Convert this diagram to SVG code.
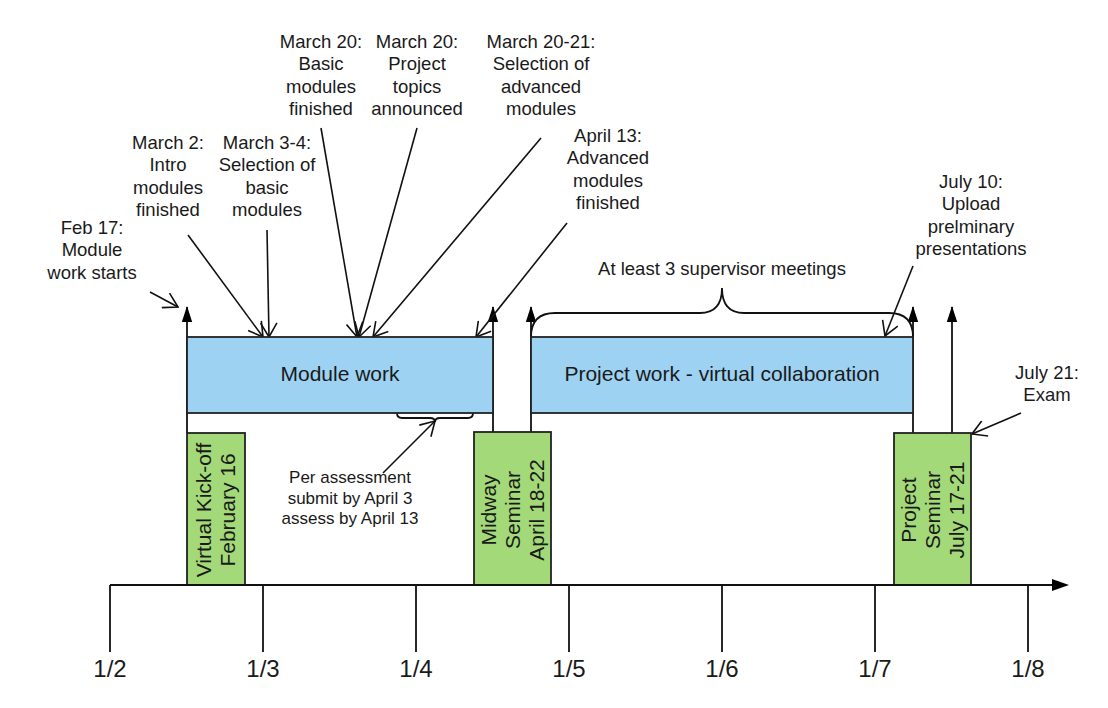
<svg xmlns="http://www.w3.org/2000/svg" width="1108" height="708" viewBox="0 0 1108 708">
<style>
text{font-family:"Liberation Sans",Arial,sans-serif;fill:#1a1a1a}
.ann{font-size:18.5px;text-anchor:middle}
.small{font-size:17px;text-anchor:middle}
.box{font-size:21px;text-anchor:middle}
.axl{font-size:24px;text-anchor:middle}
.ln{stroke:#111;stroke-width:1.8;fill:none}
.open{stroke:#111;stroke-width:1.6;fill:none;marker-end:url(#open)}
.up{stroke:#111;stroke-width:1.8;fill:none;marker-end:url(#solid)}
.blue{fill:#9dd2f2;stroke:#222;stroke-width:1.8}
.green{fill:#a3d978;stroke:#222;stroke-width:1.8}
</style>
<defs>
<marker id="open" viewBox="0 0 16 18" refX="15" refY="9" markerWidth="16" markerHeight="18" markerUnits="userSpaceOnUse" orient="auto">
<path d="M1,0.8 L15,9 L1,17.2" fill="none" stroke="#111" stroke-width="1.6"/>
</marker>
<marker id="solid" viewBox="0 0 16 12" refX="15" refY="6" markerWidth="16" markerHeight="12" markerUnits="userSpaceOnUse" orient="auto">
<path d="M0,0.8 L16,6 L0,11.2 Z" fill="#000"/>
</marker>
</defs>

<g id="connectors">
<line class="up" x1="187" y1="433" x2="187" y2="307"/>
<line class="up" x1="493" y1="432" x2="493" y2="307"/>
<line class="up" x1="531" y1="432" x2="531" y2="307"/>
<line class="up" x1="913" y1="433" x2="913" y2="307"/>
<line class="up" x1="952" y1="433" x2="952" y2="307"/>
<line class="open" x1="150" y1="292" x2="178" y2="307"/>
<line class="open" x1="188" y1="235" x2="263" y2="337"/>
<line class="open" x1="267" y1="230" x2="269" y2="337"/>
<line class="open" x1="321" y1="128" x2="357" y2="337"/>
<line class="open" x1="417" y1="128" x2="359" y2="337"/>
<line class="open" x1="541" y1="138" x2="373" y2="337"/>
<line class="open" x1="567" y1="223" x2="476" y2="337"/>
<line class="open" x1="913" y1="266" x2="885" y2="336"/>
<line class="open" x1="1021" y1="413" x2="972" y2="434"/>
<line class="open" x1="383" y1="473" x2="435" y2="421"/>
<path class="ln" d="M531,337 Q531,313 555,313 L700,313 Q722,313 722,288 Q722,313 744,313 L889,313 Q913,313 913,337"/>
<path class="ln" d="M397,413 Q397,418 402,418 L430,418 Q435,418 435,422 Q435,418 440,418 L468,418 Q473,418 473,413"/>
</g>

<g id="module-work">
<rect class="blue" x="187" y="337" width="306" height="76"/>
<text class="box" x="340" y="380.5">Module work</text>
</g>
<g id="project-work">
<rect class="blue" x="531" y="337" width="382" height="76"/>
<text class="box" x="722" y="380.5">Project work - virtual collaboration</text>
</g>

<g id="kickoff">
<rect class="green" x="187" y="433" width="58" height="152"/>
<text class="box" transform="translate(216,510) rotate(-90)"><tspan x="0" y="-5">Virtual Kick-off</tspan><tspan x="0" y="19">February 16</tspan></text>
</g>
<g id="midway">
<rect class="green" x="474" y="432" width="77" height="153"/>
<text class="box" transform="translate(512.5,510) rotate(-90)"><tspan x="0" y="-16.5">Midway</tspan><tspan x="0" y="7.5">Seminar</tspan><tspan x="0" y="31.5">April 18-22</tspan></text>
</g>
<g id="project-seminar">
<rect class="green" x="894" y="433" width="77" height="152"/>
<text class="box" transform="translate(932.5,510) rotate(-90)"><tspan x="0" y="-16.5">Project</tspan><tspan x="0" y="7.5">Seminar</tspan><tspan x="0" y="31.5">July 17-21</tspan></text>
</g>

<g id="axis">
<line class="ln" x1="110" y1="585" x2="1054" y2="585"/>
<path d="M1052,579 L1069,585 L1052,591 Z" fill="#000"/>
<line class="ln" x1="110" y1="585" x2="110" y2="652"/>
<line class="ln" x1="263" y1="585" x2="263" y2="652"/>
<line class="ln" x1="416" y1="585" x2="416" y2="652"/>
<line class="ln" x1="569" y1="585" x2="569" y2="652"/>
<line class="ln" x1="722" y1="585" x2="722" y2="652"/>
<line class="ln" x1="875" y1="585" x2="875" y2="652"/>
<line class="ln" x1="1028" y1="585" x2="1028" y2="652"/>
<text class="axl" x="110" y="677">1/2</text>
<text class="axl" x="263" y="677">1/3</text>
<text class="axl" x="416" y="677">1/4</text>
<text class="axl" x="569" y="677">1/5</text>
<text class="axl" x="722" y="677">1/6</text>
<text class="axl" x="875" y="677">1/7</text>
<text class="axl" x="1028" y="677">1/8</text>
</g>

<g id="labels">
<text class="ann" x="92" y="233.5"><tspan x="92">Feb 17:</tspan><tspan x="92" dy="22.5">Module</tspan><tspan x="92" dy="22.5">work starts</tspan></text>
<text class="ann" x="168" y="148.5"><tspan x="168">March 2:</tspan><tspan x="168" dy="22.5">Intro</tspan><tspan x="168" dy="22.5">modules</tspan><tspan x="168" dy="22.5">finished</tspan></text>
<text class="ann" x="267" y="148.5"><tspan x="267">March 3-4:</tspan><tspan x="267" dy="22.5">Selection of</tspan><tspan x="267" dy="22.5">basic</tspan><tspan x="267" dy="22.5">modules</tspan></text>
<text class="ann" x="321" y="47.5"><tspan x="321">March 20:</tspan><tspan x="321" dy="22.5">Basic</tspan><tspan x="321" dy="22.5">modules</tspan><tspan x="321" dy="22.5">finished</tspan></text>
<text class="ann" x="417" y="47.5"><tspan x="417">March 20:</tspan><tspan x="417" dy="22.5">Project</tspan><tspan x="417" dy="22.5">topics</tspan><tspan x="417" dy="22.5">announced</tspan></text>
<text class="ann" x="541" y="47.5"><tspan x="541">March 20-21:</tspan><tspan x="541" dy="22.5">Selection of</tspan><tspan x="541" dy="22.5">advanced</tspan><tspan x="541" dy="22.5">modules</tspan></text>
<text class="ann" x="608" y="141.5"><tspan x="608">April 13:</tspan><tspan x="608" dy="22.5">Advanced</tspan><tspan x="608" dy="22.5">modules</tspan><tspan x="608" dy="22.5">finished</tspan></text>
<text class="ann" x="971" y="187.5"><tspan x="971">July 10:</tspan><tspan x="971" dy="22.5">Upload</tspan><tspan x="971" dy="22.5">prelminary</tspan><tspan x="971" dy="22.5">presentations</tspan></text>
<text class="ann" x="1047" y="378.5"><tspan x="1047">July 21:</tspan><tspan x="1047" dy="22.5">Exam</tspan></text>
<text class="ann" x="722" y="274.5">At least 3 supervisor meetings</text>
<text class="small" x="350" y="483"><tspan x="350">Per assessment</tspan><tspan x="350" dy="20.5">submit by April 3</tspan><tspan x="350" dy="20.5">assess by April 13</tspan></text>
</g>
</svg>
